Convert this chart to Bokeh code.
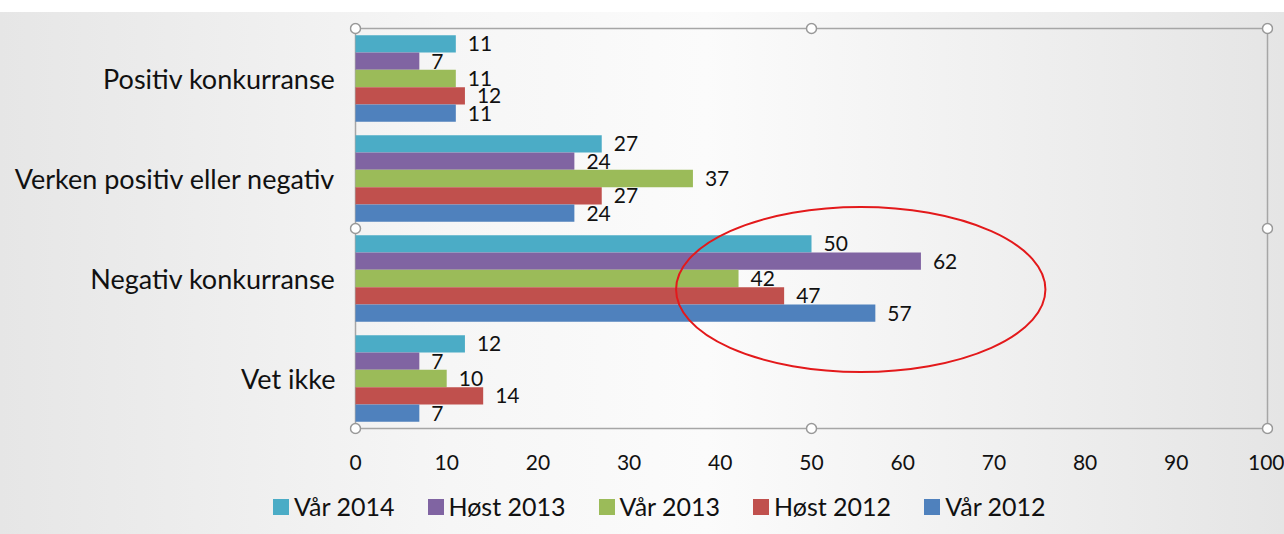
from bokeh.plotting import figure
from bokeh.layouts import column
from bokeh.models import (FactorRange, Range1d, ColumnDataSource, FixedTicker, Div)
from bokeh.transform import dodge
from bokeh.core.properties import value
from bokeh.embed import file_html
from bokeh.resources import INLINE

# ---------------- data ----------------
categories = ["Positiv konkurranse", "Verken positiv eller negativ",
              "Negativ konkurranse", "Vet ikke"]
series = ["Vår 2014", "Høst 2013", "Vår 2013", "Høst 2012", "Vår 2012"]
colors = ["#4BACC6", "#8064A2", "#9BBB59", "#C0504D", "#4F81BD"]
var_2014 = [11, 27, 50, 12]
host_2013 = [7, 24, 62, 7]
var_2013 = [11, 37, 42, 10]
host_2012 = [12, 27, 47, 14]
var_2012 = [11, 24, 57, 7]
values_by_series = [var_2014, host_2013, var_2013, host_2012, var_2012]
x_ticks = [0, 10, 20, 30, 40, 50, 60, 70, 80, 90, 100]

# highlight ellipse (annotation around "Negativ konkurranse")
highlight_x, highlight_y = 55.4, 1.39
highlight_w, highlight_h = 40.5, 1.65

FONT = "Lato"
GRAY = "#a6a6a6"
TXT = "#111111"
BG_X = "linear-gradient(90deg, #e6e6e6 0%, #f6f6f6 35%, #fbfbfb 55%, #e5e5e5 100%)"

PAD_X = 0.658   # small margin so the frame handles are not clipped
PAD_Y = 0.06

p = figure(width=1284, height=480,
           y_range=FactorRange(factors=categories[::-1], range_padding=PAD_Y,
                               range_padding_units="absolute"),
           x_range=Range1d(x_ticks[0] - PAD_X, x_ticks[-1] + PAD_X),
           output_backend="svg", toolbar_location=None,
           min_border_left=349, min_border_right=11,
           min_border_top=22, min_border_bottom=46)

p.background_fill_alpha = 0
p.border_fill_alpha = 0
p.styles = {"background": "linear-gradient(180deg, #ffffff 0px, #ffffff 12px, rgba(255,255,255,0) 12px), " + BG_X}
p.outline_line_color = None
p.xgrid.visible = False
p.ygrid.visible = False

n = len(categories)
x0, x1 = x_ticks[0], x_ticks[-1]

# plot-area frame (drawn as a rectangle on the data extents)
p.quad(left=[x0], right=[x1], bottom=[0], top=[n], fill_color=None,
       line_color=GRAY, line_width=1.5)

bar_h = 0.173
for i, (name, vals, col) in enumerate(zip(series, values_by_series, colors)):
    off = (2 - i) * bar_h
    src = ColumnDataSource(dict(cat=categories, val=vals,
                                lab=[str(v) for v in vals]))
    p.hbar(y=dodge("cat", off, range=p.y_range), left=0, right="val",
           height=bar_h, fill_color=col, line_color=None, source=src)
    p.text(x="val", y=dodge("cat", off, range=p.y_range), text="lab",
           x_offset=12, text_baseline="middle", text_align="left",
           text_font=value(FONT), text_font_size="21px", text_color=TXT,
           source=src)

# selection-frame handles at frame corners / midpoints
xm = (x0 + x1) / 2
hx = [x0, xm, x1, x0, x1, x0, xm, x1]
hy = [n, n, n, n / 2, n / 2, 0, 0, 0]
p.scatter(x=hx, y=hy, marker="circle", size=10, fill_color="white",
          line_color="#999999", line_width=1.5)

p.ellipse(x=highlight_x, y=highlight_y, width=highlight_w, height=highlight_h,
          fill_color=None, line_color="#e3191b", line_width=2)

# axes
p.xaxis.ticker = FixedTicker(ticks=x_ticks)
p.xaxis.major_tick_line_color = None
p.xaxis.minor_tick_line_color = None
p.xaxis.major_tick_out = 0
p.xaxis.major_label_standoff = 20
p.xaxis.axis_line_color = None
p.xaxis.major_label_text_font = FONT
p.xaxis.major_label_text_font_size = "21px"
p.xaxis.major_label_text_color = TXT

p.yaxis.major_tick_line_color = None
p.yaxis.minor_tick_line_color = None
p.yaxis.major_tick_out = 0
p.yaxis.major_label_standoff = 14
p.yaxis.axis_line_color = None
p.yaxis.major_label_text_font = FONT
p.yaxis.major_label_text_font_size = "27px"
p.yaxis.major_label_text_color = TXT

# ---------------- legend strip (HTML, real text) ----------------
item_html = []
for name, col in zip(series, colors):
    item_html.append(
        '<span style="display:inline-flex;align-items:center;margin-right:33px;">'
        f'<span style="display:inline-block;width:16px;height:16px;background:{col};'
        'margin-right:5px;"></span>'
        f'<span>{name}</span></span>')
legend_html = ('<div style="display:flex;align-items:center;height:54px;'
               'padding-left:273px;box-sizing:border-box;white-space:nowrap;'
               f'font-family:{FONT};font-size:25px;color:{TXT};">'
               + "".join(item_html) + '</div>')
lg = Div(text=legend_html, width=1284, height=54, margin=0,
         styles={"background": BG_X})

layout = column(p, lg, spacing=0)
open("out.html", "w").write(file_html(layout, INLINE))
